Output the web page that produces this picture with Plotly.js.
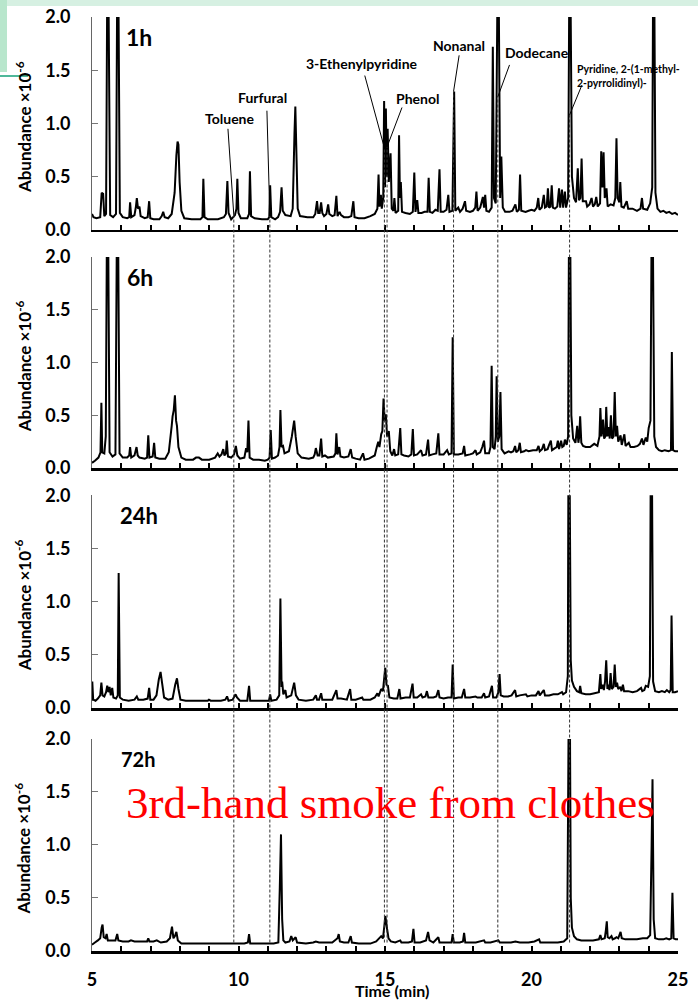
<!DOCTYPE html>
<html><head><meta charset="utf-8">
<script src="https://cdn.plot.ly/plotly-3.0.1.min.js"></script>
<style>html,body{margin:0;padding:0;background:#fff;} #chart{width:698px;height:1002px;}</style>
</head><body><div id="chart"></div>
<script>
// ---------------- DATA (time in min, abundance x10^-6) ----------------
const panelLabels = ['1h', '6h', '24h', '72h'];

const trace1h = [[5.00,0.15],[5.05,0.12],[5.15,0.11],[5.28,0.12],[5.33,0.35],[5.38,0.34],[5.42,0.13],[5.48,0.15],[5.52,2.3],[5.56,2.3],[5.62,0.14],[5.72,0.12],[5.82,0.15],[5.86,2.3],[5.90,2.3],[5.95,0.16],[6.05,0.12],[6.20,0.11],[6.27,0.12],[6.30,0.26],[6.34,0.12],[6.45,0.14],[6.50,0.22],[6.53,0.30],[6.57,0.20],[6.62,0.22],[6.66,0.13],[6.80,0.11],[6.90,0.12],[6.95,0.27],[6.99,0.11],[7.10,0.10],[7.30,0.10],[7.38,0.13],[7.43,0.17],[7.48,0.12],[7.60,0.11],[7.72,0.15],[7.82,0.35],[7.88,0.70],[7.92,0.83],[7.95,0.80],[7.99,0.45],[8.05,0.18],[8.15,0.11],[8.40,0.10],[8.70,0.10],[8.77,0.12],[8.80,0.48],[8.84,0.12],[8.95,0.10],[9.30,0.10],[9.50,0.12],[9.57,0.15],[9.62,0.46],[9.66,0.16],[9.75,0.10],[9.88,0.14],[9.93,0.20],[9.96,0.48],[10.00,0.16],[10.08,0.11],[10.30,0.11],[10.36,0.15],[10.39,0.55],[10.43,0.13],[10.55,0.11],[10.80,0.10],[11.00,0.10],[11.05,0.12],[11.08,0.42],[11.12,0.12],[11.25,0.10],[11.35,0.12],[11.42,0.17],[11.47,0.40],[11.51,0.18],[11.60,0.14],[11.78,0.13],[11.85,0.20],[11.91,0.90],[11.94,1.16],[11.97,0.80],[12.02,0.20],[12.10,0.13],[12.35,0.12],[12.55,0.12],[12.62,0.15],[12.68,0.27],[12.72,0.16],[12.77,0.16],[12.82,0.26],[12.86,0.16],[12.92,0.13],[13.00,0.15],[13.06,0.24],[13.10,0.15],[13.20,0.13],[13.28,0.14],[13.34,0.32],[13.38,0.13],[13.45,0.17],[13.50,0.14],[13.60,0.12],[13.75,0.12],[13.85,0.13],[13.92,0.27],[13.96,0.12],[14.10,0.11],[14.30,0.11],[14.50,0.13],[14.65,0.15],[14.74,0.20],[14.78,0.52],[14.81,0.22],[14.86,0.33],[14.89,0.20],[14.94,0.30],[14.97,1.21],[15.00,0.40],[15.03,1.14],[15.06,0.50],[15.09,0.95],[15.13,0.45],[15.19,0.72],[15.23,0.20],[15.29,0.18],[15.32,0.30],[15.36,0.16],[15.45,0.18],[15.48,0.89],[15.51,0.30],[15.54,0.45],[15.58,0.17],[15.70,0.16],[15.85,0.15],[15.95,0.17],[16.00,0.54],[16.04,0.17],[16.10,0.28],[16.14,0.16],[16.25,0.16],[16.35,0.17],[16.45,0.17],[16.49,0.49],[16.53,0.17],[16.62,0.16],[16.72,0.19],[16.80,0.18],[16.86,0.57],[16.90,0.17],[17.00,0.17],[17.10,0.19],[17.16,0.33],[17.20,0.17],[17.30,0.18],[17.36,1.30],[17.40,0.18],[17.50,0.21],[17.56,0.17],[17.65,0.20],[17.73,0.27],[17.77,0.18],[17.90,0.17],[18.00,0.18],[18.08,0.21],[18.12,0.36],[18.16,0.18],[18.25,0.21],[18.34,0.31],[18.38,0.21],[18.42,0.33],[18.46,0.18],[18.55,0.17],[18.64,0.21],[18.68,1.72],[18.72,0.30],[18.78,0.25],[18.84,2.3],[18.88,2.3],[18.93,0.30],[18.97,0.69],[19.02,0.21],[19.10,0.17],[19.25,0.17],[19.35,0.18],[19.45,0.24],[19.50,0.17],[19.57,0.19],[19.61,0.52],[19.65,0.18],[19.80,0.17],[19.90,0.18],[20.00,0.19],[20.10,0.18],[20.18,0.21],[20.23,0.30],[20.27,0.19],[20.35,0.21],[20.42,0.33],[20.46,0.21],[20.52,0.22],[20.56,0.39],[20.60,0.21],[20.65,0.22],[20.69,0.42],[20.73,0.21],[20.80,0.20],[20.88,0.22],[20.94,0.39],[20.98,0.21],[21.04,0.38],[21.08,0.21],[21.14,0.36],[21.18,0.21],[21.25,0.30],[21.29,2.3],[21.33,2.3],[21.38,0.50],[21.45,0.30],[21.52,0.26],[21.58,0.58],[21.62,0.28],[21.67,0.30],[21.71,0.67],[21.75,0.27],[21.86,0.27],[21.90,0.22],[21.98,0.24],[22.05,0.30],[22.10,0.22],[22.16,0.24],[22.21,0.31],[22.26,0.22],[22.34,0.25],[22.38,0.74],[22.42,0.40],[22.46,0.73],[22.50,0.30],[22.56,0.39],[22.60,0.22],[22.70,0.24],[22.80,0.23],[22.86,0.30],[22.90,0.86],[22.94,0.30],[23.00,0.26],[23.03,0.45],[23.07,0.22],[23.15,0.21],[23.25,0.27],[23.30,0.20],[23.45,0.20],[23.60,0.18],[23.72,0.20],[23.77,0.30],[23.81,0.20],[23.95,0.19],[24.05,0.25],[24.12,0.40],[24.15,2.3],[24.19,2.3],[24.23,0.35],[24.30,0.20],[24.40,0.17],[24.50,0.18],[24.60,0.16],[24.70,0.17],[24.80,0.15],[24.90,0.16],[25.00,0.14]];

const trace6h = [[5.00,0.05],[5.10,0.07],[5.22,0.10],[5.29,0.15],[5.32,0.62],[5.35,0.15],[5.42,0.14],[5.47,0.30],[5.51,2.3],[5.55,2.3],[5.60,0.15],[5.70,0.11],[5.80,0.13],[5.85,2.3],[5.89,2.3],[5.94,0.14],[6.05,0.10],[6.20,0.10],[6.27,0.12],[6.30,0.20],[6.34,0.10],[6.45,0.12],[6.52,0.20],[6.56,0.12],[6.62,0.10],[6.80,0.09],[6.88,0.10],[6.92,0.31],[6.96,0.10],[7.07,0.11],[7.12,0.24],[7.16,0.10],[7.30,0.09],[7.50,0.09],[7.62,0.15],[7.72,0.40],[7.75,0.49],[7.79,0.55],[7.83,0.69],[7.87,0.45],[7.90,0.40],[7.95,0.20],[8.05,0.10],[8.20,0.08],[8.45,0.08],[8.55,0.10],[8.65,0.10],[8.75,0.08],[9.00,0.08],[9.20,0.10],[9.29,0.14],[9.35,0.11],[9.42,0.13],[9.48,0.18],[9.52,0.12],[9.57,0.14],[9.60,0.26],[9.64,0.11],[9.75,0.10],[9.85,0.13],[9.91,0.21],[9.96,0.12],[10.05,0.09],[10.20,0.10],[10.26,0.19],[10.30,0.15],[10.34,0.45],[10.38,0.10],[10.50,0.08],[10.70,0.08],[10.90,0.07],[11.00,0.08],[11.06,0.10],[11.10,0.36],[11.14,0.09],[11.25,0.10],[11.35,0.12],[11.40,0.20],[11.43,0.55],[11.47,0.20],[11.52,0.21],[11.57,0.14],[11.72,0.16],[11.82,0.30],[11.90,0.45],[11.95,0.30],[12.02,0.14],[12.15,0.10],[12.40,0.09],[12.55,0.10],[12.60,0.13],[12.64,0.19],[12.70,0.12],[12.76,0.12],[12.82,0.28],[12.86,0.11],[12.95,0.12],[13.05,0.10],[13.25,0.11],[13.31,0.14],[13.34,0.33],[13.38,0.13],[13.44,0.20],[13.48,0.11],[13.60,0.10],[13.75,0.11],[13.83,0.18],[13.88,0.10],[14.00,0.09],[14.15,0.08],[14.25,0.14],[14.30,0.08],[14.45,0.09],[14.65,0.12],[14.72,0.20],[14.77,0.25],[14.81,0.20],[14.87,0.32],[14.91,0.35],[14.95,0.66],[14.99,0.45],[15.03,0.51],[15.07,0.30],[15.13,0.35],[15.18,0.16],[15.25,0.12],[15.31,0.18],[15.35,0.12],[15.45,0.13],[15.52,0.38],[15.56,0.13],[15.65,0.12],[15.80,0.11],[15.90,0.13],[15.95,0.37],[15.99,0.12],[16.10,0.13],[16.23,0.17],[16.28,0.12],[16.40,0.13],[16.47,0.27],[16.51,0.12],[16.62,0.13],[16.75,0.14],[16.82,0.33],[16.86,0.13],[17.00,0.13],[17.12,0.17],[17.18,0.13],[17.27,0.14],[17.31,1.24],[17.35,0.13],[17.50,0.13],[17.65,0.14],[17.70,0.21],[17.74,0.12],[17.90,0.13],[18.00,0.14],[18.09,0.17],[18.13,0.13],[18.25,0.15],[18.32,0.20],[18.38,0.26],[18.42,0.14],[18.55,0.14],[18.60,0.20],[18.64,0.97],[18.68,0.20],[18.74,0.18],[18.78,0.30],[18.81,0.87],[18.85,0.25],[18.90,0.30],[18.94,0.72],[18.98,0.18],[19.08,0.14],[19.22,0.16],[19.30,0.15],[19.38,0.16],[19.44,0.21],[19.48,0.15],[19.55,0.17],[19.60,0.24],[19.64,0.15],[19.75,0.16],[19.81,0.17],[19.90,0.16],[20.05,0.17],[20.18,0.17],[20.24,0.21],[20.28,0.16],[20.36,0.18],[20.42,0.23],[20.46,0.17],[20.55,0.18],[20.60,0.22],[20.66,0.26],[20.70,0.17],[20.80,0.19],[20.86,0.20],[20.90,0.26],[20.94,0.18],[21.01,0.26],[21.05,0.20],[21.10,0.21],[21.14,0.27],[21.20,0.22],[21.25,0.30],[21.28,2.3],[21.32,2.3],[21.36,0.50],[21.42,0.28],[21.50,0.24],[21.56,0.40],[21.60,0.24],[21.63,0.30],[21.66,0.49],[21.70,0.24],[21.76,0.21],[21.85,0.20],[22.00,0.20],[22.14,0.23],[22.25,0.21],[22.32,0.30],[22.35,0.57],[22.39,0.30],[22.44,0.46],[22.48,0.28],[22.52,0.30],[22.55,0.58],[22.59,0.30],[22.64,0.39],[22.67,0.28],[22.71,0.50],[22.75,0.28],[22.80,0.30],[22.84,0.72],[22.88,0.30],[22.92,0.40],[22.96,0.25],[23.04,0.31],[23.08,0.22],[23.17,0.32],[23.21,0.21],[23.32,0.24],[23.38,0.20],[23.50,0.20],[23.62,0.21],[23.70,0.23],[23.77,0.28],[23.82,0.22],[23.90,0.29],[23.95,0.25],[24.00,0.38],[24.06,0.45],[24.10,2.3],[24.14,2.3],[24.19,0.30],[24.25,0.20],[24.35,0.17],[24.45,0.16],[24.55,0.17],[24.68,0.16],[24.76,0.17],[24.79,1.10],[24.83,0.17],[24.90,0.16],[25.00,0.16]];

const trace24h = [[5.00,0.07],[5.01,0.25],[5.04,0.08],[5.12,0.07],[5.20,0.09],[5.28,0.12],[5.32,0.24],[5.36,0.12],[5.42,0.11],[5.48,0.15],[5.52,0.21],[5.56,0.15],[5.60,0.20],[5.64,0.12],[5.69,0.19],[5.73,0.10],[5.82,0.09],[5.88,0.12],[5.91,1.27],[5.95,0.10],[6.05,0.08],[6.25,0.07],[6.45,0.08],[6.53,0.11],[6.58,0.08],[6.75,0.08],[6.90,0.09],[6.95,0.19],[6.99,0.08],[7.10,0.08],[7.20,0.12],[7.28,0.27],[7.34,0.34],[7.40,0.22],[7.46,0.10],[7.60,0.08],[7.75,0.09],[7.84,0.22],[7.90,0.28],[7.95,0.18],[8.02,0.08],[8.20,0.07],[8.60,0.07],[8.95,0.07],[8.99,0.08],[9.05,0.07],[9.40,0.07],[9.55,0.08],[9.61,0.11],[9.66,0.07],[9.80,0.08],[9.90,0.13],[9.95,0.10],[10.05,0.07],[10.30,0.07],[10.36,0.21],[10.40,0.07],[10.60,0.07],[10.90,0.07],[11.04,0.07],[11.08,0.13],[11.12,0.07],[11.30,0.08],[11.39,0.12],[11.43,1.03],[11.47,0.20],[11.49,0.25],[11.53,0.13],[11.60,0.17],[11.64,0.10],[11.80,0.12],[11.90,0.24],[11.96,0.12],[12.05,0.08],[12.30,0.07],[12.55,0.08],[12.64,0.12],[12.68,0.08],[12.75,0.08],[12.82,0.14],[12.86,0.08],[13.00,0.08],[13.20,0.08],[13.34,0.17],[13.38,0.09],[13.50,0.09],[13.70,0.08],[13.81,0.18],[13.85,0.08],[14.00,0.08],[14.22,0.10],[14.26,0.08],[14.50,0.08],[14.65,0.10],[14.74,0.14],[14.78,0.11],[14.87,0.18],[14.93,0.16],[14.98,0.30],[15.01,0.38],[15.05,0.22],[15.10,0.21],[15.15,0.10],[15.30,0.09],[15.42,0.09],[15.49,0.18],[15.53,0.09],[15.70,0.10],[15.85,0.10],[15.94,0.23],[15.98,0.10],[16.10,0.10],[16.23,0.13],[16.28,0.10],[16.38,0.11],[16.43,0.16],[16.48,0.10],[16.65,0.10],[16.75,0.11],[16.82,0.17],[16.86,0.10],[17.00,0.09],[17.15,0.10],[17.27,0.10],[17.31,0.41],[17.35,0.09],[17.50,0.10],[17.62,0.10],[17.70,0.18],[17.74,0.10],[17.90,0.10],[18.09,0.11],[18.15,0.10],[18.30,0.10],[18.38,0.14],[18.42,0.10],[18.55,0.11],[18.65,0.21],[18.69,0.10],[18.80,0.10],[18.87,0.15],[18.91,0.32],[18.95,0.12],[19.05,0.11],[19.20,0.11],[19.32,0.12],[19.44,0.17],[19.48,0.11],[19.60,0.12],[19.81,0.13],[19.86,0.11],[20.00,0.12],[20.15,0.12],[20.24,0.16],[20.28,0.12],[20.42,0.17],[20.46,0.12],[20.60,0.12],[20.75,0.13],[20.90,0.13],[21.04,0.15],[21.08,0.13],[21.18,0.15],[21.24,0.30],[21.26,2.3],[21.30,2.3],[21.34,0.45],[21.38,0.26],[21.45,0.20],[21.55,0.16],[21.63,0.15],[21.66,0.21],[21.70,0.14],[21.85,0.13],[22.00,0.13],[22.15,0.14],[22.30,0.15],[22.35,0.32],[22.38,0.18],[22.43,0.22],[22.47,0.17],[22.51,0.25],[22.55,0.45],[22.59,0.18],[22.63,0.22],[22.66,0.17],[22.70,0.33],[22.74,0.18],[22.80,0.20],[22.84,0.41],[22.88,0.20],[22.92,0.24],[22.96,0.18],[23.03,0.20],[23.07,0.16],[23.12,0.22],[23.16,0.16],[23.30,0.16],[23.45,0.15],[23.60,0.16],[23.74,0.19],[23.78,0.16],[23.85,0.17],[23.90,0.21],[23.98,0.20],[24.04,0.30],[24.07,2.3],[24.11,2.3],[24.15,0.25],[24.22,0.16],[24.35,0.15],[24.45,0.16],[24.55,0.15],[24.62,0.17],[24.70,0.15],[24.75,0.17],[24.78,0.87],[24.82,0.15],[24.90,0.15],[25.00,0.16]];

const trace72h = [[5.00,0.06],[5.10,0.08],[5.20,0.10],[5.28,0.12],[5.33,0.22],[5.36,0.25],[5.40,0.13],[5.46,0.12],[5.50,0.16],[5.54,0.10],[5.65,0.10],[5.80,0.10],[5.86,0.16],[5.90,0.10],[6.05,0.09],[6.25,0.09],[6.33,0.10],[6.45,0.09],[6.60,0.09],[6.75,0.09],[6.88,0.09],[6.92,0.12],[6.96,0.09],[7.10,0.09],[7.21,0.10],[7.35,0.08],[7.55,0.09],[7.66,0.12],[7.73,0.23],[7.78,0.12],[7.83,0.14],[7.88,0.18],[7.93,0.10],[8.05,0.07],[8.50,0.07],[9.00,0.07],[9.50,0.07],[9.90,0.07],[10.20,0.07],[10.32,0.08],[10.36,0.16],[10.40,0.07],[10.70,0.07],[11.00,0.07],[11.20,0.07],[11.36,0.08],[11.41,0.60],[11.45,1.10],[11.49,0.30],[11.53,0.10],[11.60,0.08],[11.74,0.09],[11.80,0.14],[11.85,0.10],[11.95,0.13],[12.00,0.08],[12.30,0.07],[12.55,0.08],[12.64,0.09],[12.75,0.08],[13.00,0.08],[13.20,0.08],[13.38,0.12],[13.42,0.16],[13.46,0.09],[13.60,0.08],[13.75,0.08],[13.83,0.14],[13.87,0.08],[14.10,0.07],[14.50,0.07],[14.70,0.09],[14.87,0.14],[14.93,0.12],[14.98,0.24],[15.01,0.33],[15.04,0.28],[15.07,0.21],[15.12,0.12],[15.20,0.09],[15.35,0.08],[15.52,0.10],[15.56,0.08],[15.80,0.08],[15.92,0.09],[15.97,0.21],[16.01,0.08],[16.20,0.08],[16.40,0.10],[16.47,0.18],[16.52,0.10],[16.65,0.08],[16.82,0.13],[16.86,0.08],[17.05,0.08],[17.27,0.08],[17.31,0.16],[17.35,0.08],[17.55,0.08],[17.66,0.09],[17.70,0.17],[17.74,0.08],[17.90,0.08],[18.10,0.08],[18.38,0.10],[18.42,0.08],[18.60,0.08],[18.87,0.10],[18.92,0.08],[19.10,0.08],[19.30,0.08],[19.45,0.09],[19.60,0.08],[19.90,0.08],[20.10,0.09],[20.26,0.11],[20.30,0.08],[20.50,0.08],[20.70,0.08],[20.90,0.08],[21.10,0.09],[21.22,0.12],[21.27,2.3],[21.31,2.3],[21.34,0.50],[21.38,0.22],[21.45,0.14],[21.55,0.11],[21.70,0.10],[21.90,0.10],[22.10,0.10],[22.30,0.11],[22.35,0.15],[22.39,0.11],[22.50,0.12],[22.54,0.20],[22.57,0.28],[22.60,0.13],[22.66,0.12],[22.73,0.14],[22.77,0.11],[22.85,0.12],[22.90,0.13],[22.96,0.12],[23.04,0.18],[23.08,0.12],[23.20,0.11],[23.40,0.11],[23.60,0.11],[23.80,0.12],[23.95,0.12],[24.05,0.15],[24.10,1.00],[24.13,1.62],[24.17,0.30],[24.22,0.12],[24.35,0.11],[24.50,0.11],[24.60,0.12],[24.70,0.11],[24.77,0.12],[24.81,0.55],[24.85,0.12],[24.92,0.11],[25.00,0.11]];

const compoundNames = ['Toluene', 'Furfural', '3-Ethenylpyridine', 'Phenol', 'Nonanal', 'Dodecane', 'Pyridine, 2-(1-methyl-<br>2-pyrrolidinyl)-'];
const compoundTimes = [9.84, 11.07, 14.98, 15.07, 17.34, 18.85, 21.30];
const xTickVals = [5, 10, 15, 20, 25];
const yTickVals = [0, 0.5, 1.0, 1.5, 2.0];
const yTickText = ['0.0', '0.5', '1.0', '1.5', '2.0'];

// ---------------- LAYOUT ----------------
const traces = [trace1h, trace6h, trace24h, trace72h];
const domains = [[0.772, 1], [0.517, 0.743], [0.260, 0.488], [0, 0.227]];
const FONT = 'Lato, "Open Sans", sans-serif';

const data = traces.map((tr, i) => ({
  type: 'scatter', mode: 'lines',
  x: tr.map(p => p[0]), y: tr.map(p => p[1]),
  xaxis: i === 0 ? 'x' : 'x' + (i + 1),
  yaxis: i === 0 ? 'y' : 'y' + (i + 1),
  line: {color: '#000', width: 2, simplify: false},
  hoverinfo: 'skip', showlegend: false
}));

const layout = {
  width: 698, height: 1002,
  margin: {l: 92, r: 20, t: 17, b: 51},
  paper_bgcolor: '#fff', plot_bgcolor: 'rgba(0,0,0,0)',
  showlegend: false,
  font: {family: FONT, color: '#000'},
  shapes: [], annotations: []
};

for (let i = 0; i < 4; i++) {
  const xs = i === 0 ? '' : String(i + 1);
  layout['xaxis' + xs] = {
    domain: [0, 1], anchor: 'y' + xs, range: [5, 25],
    showline: true, linecolor: '#000', linewidth: 2.5,
    ticks: 'inside', ticklen: 5, tickwidth: 2, tickcolor: '#000',
    tickvals: xTickVals, ticktext: xTickVals.map(String),
    minor: {dtick: 1, tick0: 5, ticks: 'inside', ticklen: 5, tickwidth: 2, tickcolor: '#000'},
    showticklabels: i === 3, ticklabelstandoff: 11,
    tickfont: {family: FONT, size: 18, color: '#000', weight: 'bold'},
    showgrid: false, zeroline: false, fixedrange: true
  };
  layout['yaxis' + xs] = {
    domain: domains[i], anchor: 'x' + xs, range: [0, 2],
    showline: true, linecolor: '#666', linewidth: 1,
    ticks: 'inside', ticklen: 6, tickwidth: 1, tickcolor: '#777',
    tickvals: yTickVals, ticktext: yTickText, ticklabelstandoff: 17,
    tickfont: {family: FONT, size: 18, color: '#000', weight: 'bold'},
    showgrid: false, zeroline: false, fixedrange: true
  };
  // y axis title
  layout.annotations.push({
    xref: 'paper', yref: 'paper', x: -0.118, y: (domains[i][0] + domains[i][1]) / 2 - 0.004,
    text: '<b>Abundance ×10<sup>-6</sup></b>', textangle: -90, showarrow: false,
    font: {family: FONT, size: 17, color: '#000'}, xanchor: 'center', yanchor: 'middle'
  });
}

// panel labels
const labelX = [6.09, 6.13, 5.89, 5.92];
const labelSize = [23, 23, 22, 20];
panelLabels.forEach((t, i) => {
  const xs = i === 0 ? '' : String(i + 1);
  layout.annotations.push({
    xref: 'x' + xs, yref: 'y' + xs, x: labelX[i], y: 1.81, xanchor: 'left', yanchor: 'middle',
    text: '<b>' + t + '</b>', showarrow: false, font: {family: FONT, size: labelSize[i], color: '#000'}
  });
});

// compound labels and leader lines (panel 1)
const labelPos = [[9.71, 1.05], [10.81, 1.24], [14.22, 1.56], [16.10, 1.23], [17.53, 1.73], [20.20, 1.67], [21.50, 1.45]];
const leaderStart = [[9.64, 0.95], [10.97, 1.12], [14.31, 1.45], [15.58, 1.15], [17.53, 1.64], [19.25, 1.55], [21.72, 1.36]];
const leaderEnd = [0.14, 0.13, 0.77, 0.78, 1.30, 1.25, 1.08];
compoundNames.forEach((name, k) => {
  const last = k === compoundNames.length - 1;
  layout.annotations.push({
    xref: 'x', yref: 'y', x: labelPos[k][0], y: labelPos[k][1],
    xanchor: last ? 'left' : 'center', yanchor: 'middle', align: 'left',
    text: '<b>' + name + '</b>', showarrow: false,
    font: {family: FONT, size: last ? 10.5 : 14, color: '#000'}
  });
  layout.shapes.push({
    type: 'line', xref: 'x', yref: 'y',
    x0: leaderStart[k][0], y0: leaderStart[k][1], x1: compoundTimes[k], y1: leaderEnd[k],
    line: {color: '#000', width: 1}
  });
  // dashed guide through all panels
  const yTop = domains[0][0] + leaderEnd[k] / 2 * (domains[0][1] - domains[0][0]);
  const yBot = domains[3][0] + 0.08 / 2 * (domains[3][1] - domains[3][0]);
  layout.shapes.push({
    type: 'line', xref: 'x', yref: 'paper',
    x0: compoundTimes[k], x1: compoundTimes[k], y0: yBot, y1: yTop,
    line: {color: '#333', width: 1, dash: '3px,2px'}
  });
});

// x axis title
layout.annotations.push({
  xref: 'paper', yref: 'paper', x: 0.512, y: -0.042, xanchor: 'center', yanchor: 'middle',
  text: '<b>Time (min)</b>', showarrow: false, font: {family: FONT, size: 16, color: '#000'}
});

// red overlay text
layout.annotations.push({
  xref: 'paper', yref: 'paper', x: 0.51, y: 0.158, xanchor: 'center', yanchor: 'middle',
  text: '3rd-hand smoke from clothes', showarrow: false,
  font: {family: '"Liberation Serif", "Times New Roman", serif', size: 45, color: '#ff0000'}
});

// slide decoration (top-left)
const px = v => (v - 92) / 586, py = v => (951 - v) / 934;
layout.shapes.push({type: 'rect', xref: 'paper', yref: 'paper', x0: px(0), x1: px(698), y0: py(6), y1: py(0), fillcolor: '#d6f0e2', line: {width: 0}, layer: 'below'});
layout.shapes.push({type: 'rect', xref: 'paper', yref: 'paper', x0: px(0), x1: px(7), y0: py(72), y1: py(0), fillcolor: '#b8e6cc', line: {width: 0}, layer: 'below'});
layout.shapes.push({type: 'line', xref: 'paper', yref: 'paper', x0: px(0), x1: px(28), y0: py(76), y1: py(76), line: {color: '#4fb89a', width: 2}, layer: 'below'});

Plotly.newPlot('chart', data, layout, {displayModeBar: false, staticPlot: true});
</script></body></html>
